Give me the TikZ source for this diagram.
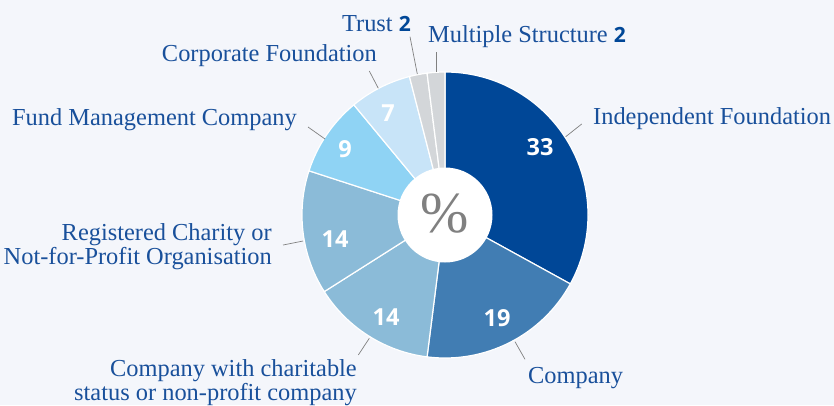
\documentclass[tikz,border=0pt]{standalone}
\usepackage{fontspec}
\setmainfont{Liberation Serif}
\newfontfamily\numfont{Open Sans}
\definecolor{bg}{RGB}{244,246,251}
\definecolor{cA}{RGB}{0,71,151}
\definecolor{cB}{RGB}{65,125,179}
\definecolor{cC}{RGB}{139,187,216}
\definecolor{cD}{RGB}{143,211,244}
\definecolor{cE}{RGB}{200,228,248}
\definecolor{cF}{RGB}{211,214,217}
\definecolor{txt}{RGB}{25,80,155}
\definecolor{lead}{RGB}{128,128,128}
\tikzset{
  lbl/.style={text=txt, font=\fontsize{24.4}{24}\selectfont, inner sep=0pt},
  num/.style={text=white, font=\numfont\bfseries\fontsize{23.5}{26}\selectfont, inner sep=0pt},
  leader/.style={draw=lead, line width=0.7pt},
  wedgefill/.style={draw=white, line width=1.2pt},
}
\begin{document}
\begin{tikzpicture}[x=1pt,y=-1pt]
\fill[bg] (0,0) rectangle (834,405);
\useasboundingbox (0,0) rectangle (834,405);
\coordinate (c) at (445,215);
\foreach \a/\b/\col in {-90/28.8/cA, 28.8/97.2/cB, 97.2/147.6/cC, 147.6/198/cC, 198/230.4/cD, 230.4/255.6/cE, 255.6/262.8/cF, 262.8/270/cF}
  \filldraw[fill=\col, wedgefill] (c) -- ++(\a:143) arc[start angle=\a, end angle=\b, radius=143] -- cycle;
\fill[white] (c) circle[radius=47.5];
\node[text=lead, font=\fontsize{58}{60}\selectfont, inner sep=0pt] (pct) at (445,214) {\%};
% numbers
\node[num] (n33) at (540,147.5) {33};
\node[num] (n19) at (497,318) {19};
\node[num] (n14a) at (386,317) {14};
\node[num] (n14b) at (335,239) {14};
\node[num] (n9) at (345,149) {9};
\node[num] (n7) at (388,113) {7};
% labels
\node[lbl, anchor=base west] (lA) at (593,124.3) {Independent Foundation};
\node[lbl, anchor=base west] (lB) at (528,383.3) {Company};
\node[lbl, anchor=base east, align=right] (lC) at (357,400.5) {Company with charitable\\status or non-profit company};
\node[lbl, anchor=base east, align=right] (lD) at (272,264.5) {Registered Charity or\\Not-for-Profit Organisation};
\node[lbl, anchor=base east] (lE) at (297,125) {Fund Management Company};
\node[lbl, anchor=base east] (lF) at (377,61) {Corporate Foundation};
\node[lbl, anchor=base east] (lG) at (411,31.7) {Trust {\numfont\bfseries\fontsize{21}{24}\selectfont\color{cA}2}};
\node[lbl, anchor=base west] (lH) at (428,42.7) {Multiple Structure {\numfont\bfseries\fontsize{21}{24}\selectfont\color{cA}2}};
% leader lines
\coordinate (a1) at (565.7,136.7); \coordinate (a2) at (581.7,124);
\coordinate (b1) at (515,341.7); \coordinate (b2) at (525,359.3);
\coordinate (c1) at (369.3,338.3); \coordinate (c2) at (358.3,355);
\coordinate (d1) at (303,241); \coordinate (d2) at (283,245);
\coordinate (e1) at (325,139); \coordinate (e2) at (308,127);
\coordinate (f1) at (378.3,88.3); \coordinate (f2) at (369.3,71);
\coordinate (g1) at (417.3,74); \coordinate (g2) at (410,36.7);
\coordinate (h1) at (436,71.7); \coordinate (h2) at (436,51.7);
\foreach \p in {a,b,c,d,e,f,g,h} \draw[leader] (\p1) -- (\p2);
\end{tikzpicture}
\end{document}
